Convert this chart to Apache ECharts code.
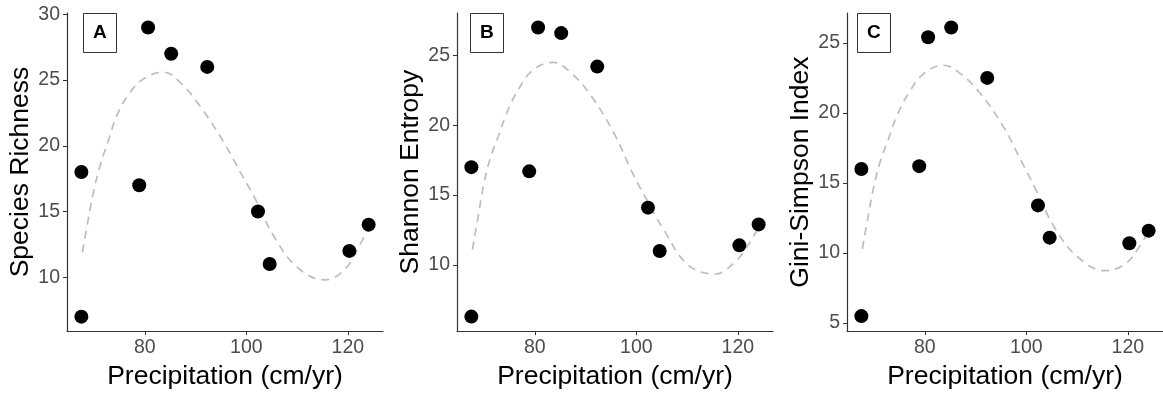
<!DOCTYPE html>
<html>
<head>
<meta charset="utf-8">
<script src="https://cdn.jsdelivr.net/npm/echarts@6/dist/echarts.min.js"></script>
<style>
  html, body { margin: 0; padding: 0; background: #ffffff; }
  #chart { width: 1163px; height: 395px; }
</style>
</head>
<body>
<div id="chart"></div>
<script>
// Site precipitation (cm/yr), shared by all three panels
const precipitation = [67.5, 67.5, 78.9, 80.65, 85.2, 92.3, 102.3, 104.6, 120.3, 124.1];

// Diversity measures at each site
const speciesRichness = [18, 7, 17, 29, 27, 26, 15, 11, 12, 14];
const shannonEntropy  = [17.0, 6.3, 16.7, 27.0, 26.6, 24.2, 14.1, 11.0, 11.4, 12.9];
const giniSimpson     = [16.0, 5.5, 16.2, 25.4, 26.1, 22.5, 13.4, 11.1, 10.7, 11.6];

// Fitted trend lines (x positions and fitted values per panel)
const trendX        = [67.7, 68.9, 69.9, 71.2, 72.9, 74.5, 76.8, 79.8, 83.7, 87.0, 90.9, 95.5, 99.1, 101.7, 105.6, 110.2, 115.5, 119.4, 122.0, 124.0];
const trendRichness = [11.9, 14.5, 16.5, 18.5, 20.5, 22.3, 23.9, 25.1, 25.6, 24.8, 23.0, 20.3, 17.8, 16.0, 13.0, 10.7, 9.8, 10.6, 12.2, 13.7];
const trendShannon  = [11.1, 13.6, 15.7, 17.6, 19.3, 20.9, 22.6, 24.0, 24.5, 23.8, 22.2, 19.5, 16.7, 14.9, 12.4, 10.0, 9.35, 10.2, 11.4, 12.65];
const trendGini     = [10.3, 12.75, 14.65, 16.5, 18.2, 19.8, 21.4, 22.8, 23.4, 22.8, 21.4, 19.0, 16.5, 14.65, 11.8, 9.7, 8.75, 9.2, 10.3, 11.5];

// Axis ticks
const xTicks = [80, 100, 120];
const yTicksRichness = [10, 15, 20, 25, 30];
const yTicksShannon  = [10, 15, 20, 25];
const yTicksGini     = [5, 10, 15, 20, 25];

// Panel labels and axis titles
const panelLetters = ['A', 'B', 'C'];
const yTitles = ['Species Richness', 'Shannon Entropy', 'Gini-Simpson Index'];
const xTitle = 'Precipitation (cm/yr)';

const zip = (xs, ys) => xs.map((x, i) => [x, ys[i]]);

const panels = [
  { values: speciesRichness, trend: trendRichness, ticks: yTicksRichness, min: 5.9,  max: 30.1 },
  { values: shannonEntropy,  trend: trendShannon,  ticks: yTicksShannon,  min: 5.26, max: 28.04 },
  { values: giniSimpson,     trend: trendGini,     ticks: yTicksGini,     min: 4.43, max: 27.13 }
];

const gridLefts = [67, 457, 847];
const boxLefts = [83, 470, 857];
const FONT = '"Liberation Sans", Arial, sans-serif';
const AXIS_COLOR = '#333333';

const option = {
  animation: false,
  backgroundColor: '#ffffff',
  title: panelLetters.map((t, i) => ({
    text: t,
    left: boxLefts[i],
    top: 14,
    padding: [10, 10],
    borderColor: AXIS_COLOR,
    borderWidth: 1,
    backgroundColor: '#ffffff',
    textStyle: { fontFamily: FONT, fontSize: 19, fontWeight: 'bold', color: '#000', lineHeight: 18 }
  })),
  grid: gridLefts.map(l => ({ left: l, top: 13, width: 316, height: 321 })),
  xAxis: panels.map((p, i) => ({
    type: 'value',
    gridIndex: i,
    min: 64.67,
    max: 126.93,
    name: xTitle,
    nameLocation: 'middle',
    nameGap: 30,
    nameTextStyle: { fontFamily: FONT, fontSize: 26.5, color: '#000' },
    axisLine: { show: true, lineStyle: { color: AXIS_COLOR, width: 1.2 } },
    axisTick: { show: true, length: 4, customValues: xTicks, lineStyle: { color: AXIS_COLOR } },
    axisLabel: { customValues: xTicks, margin: 7, fontFamily: FONT, fontSize: 19.5, color: '#4d4d4d' },
    splitLine: { show: false }
  })),
  yAxis: panels.map((p, i) => ({
    type: 'value',
    gridIndex: i,
    min: p.min,
    max: p.max,
    name: yTitles[i],
    nameLocation: 'middle',
    nameGap: 32,
    nameTextStyle: { fontFamily: FONT, fontSize: 26.5, color: '#000' },
    axisLine: { show: true, lineStyle: { color: AXIS_COLOR, width: 1.2 } },
    axisTick: { show: true, length: 4, customValues: p.ticks, lineStyle: { color: AXIS_COLOR } },
    axisLabel: { customValues: p.ticks, margin: 7, fontFamily: FONT, fontSize: 19.5, color: '#4d4d4d' },
    splitLine: { show: false }
  })),
  series: panels.flatMap((p, i) => [
    {
      type: 'line',
      xAxisIndex: i,
      yAxisIndex: i,
      data: zip(trendX, p.trend),
      smooth: 0.4,
      showSymbol: false,
      silent: true,
      lineStyle: { color: '#bdbdbd', width: 1.7, type: [8, 6] },
      z: 2
    },
    {
      type: 'scatter',
      xAxisIndex: i,
      yAxisIndex: i,
      data: zip(precipitation, p.values),
      symbol: 'circle',
      symbolSize: 14,
      itemStyle: { color: '#000000', opacity: 1 },
      z: 3
    }
  ])
};

echarts.init(document.getElementById('chart'), null, { renderer: 'canvas' }).setOption(option);
</script>
</body>
</html>
